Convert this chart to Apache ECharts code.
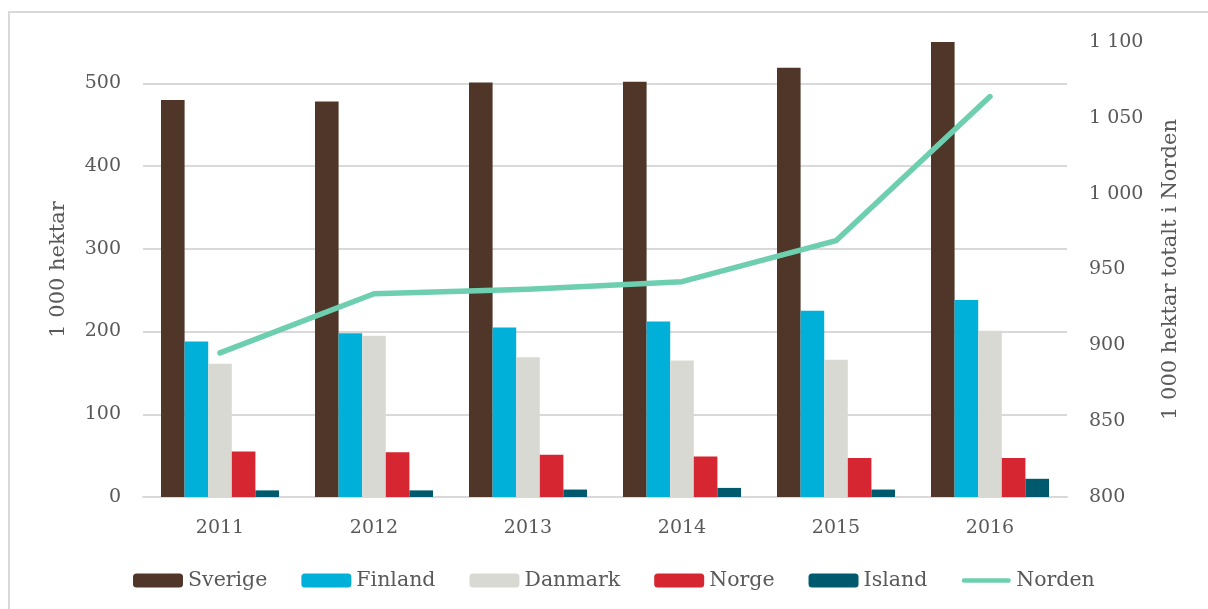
<!DOCTYPE html>
<html>
<head>
<meta charset="utf-8">
<title>Areal per land</title>
<script src="https://cdn.jsdelivr.net/npm/echarts@6/dist/echarts.min.js"></script>
<style>
  html, body { margin: 0; padding: 0; background: #ffffff; }
  #chart { width: 1208px; height: 609px; }
</style>
</head>
<body>
<div id="chart"></div>
<script>
// Years on the category axis
const years = ['2011', '2012', '2013', '2014', '2015', '2016'];

// 1 000 hektar per land
const sverige = [480, 478, 501, 502, 519, 550];
const finland = [188, 198, 205, 212, 225, 238];
const danmark = [161, 195, 169, 165, 166, 201];
const norge   = [55, 54, 51, 49, 47, 47];
const island  = [8, 8, 9, 11, 9, 22];

// 1 000 hektar totalt i Norden (right axis)
const norden = [895, 934, 937, 942, 969, 1064];

const textColor = '#595959';
const gridColor = '#d9d9d9';
const lineColor = '#6dcfb0';
const fontFamily = '"DejaVu Serif", "Liberation Serif", serif';

// Legend key for the line: a thin capsule centred in a 56x14 box
const lineIcon = 'path://M0,0 M56,14 M3,4.5 L53,4.5 A2.5,2.5 0 0 1 53,9.5 L3,9.5 A2.5,2.5 0 0 1 3,4.5 Z';

// Thousands separated by a space, e.g. "1 050"
function spaced(v) {
  return String(v).replace(/\B(?=(\d{3})+(?!\d))/g, ' ');
}

const barSeries = [
  ['Sverige', sverige, '#4f3629'],
  ['Finland', finland, '#00b0d8'],
  ['Danmark', danmark, '#d9d9d4'],
  ['Norge', norge, '#d52632'],
  ['Island', island, '#005a6e']
].map(([name, data, color]) => ({
  name: name,
  type: 'bar',
  data: data,
  barWidth: 23.6,
  barGap: '0%',
  itemStyle: { color: color },
  emphasis: { disabled: true }
}));

const chart = echarts.init(document.getElementById('chart'), null, { renderer: 'canvas' });

chart.setOption({
  animation: false,
  backgroundColor: '#ffffff',
  textStyle: { fontFamily: fontFamily, color: textColor },
  graphic: [{
    type: 'rect',
    shape: { x: 9, y: 12, width: 1230, height: 640 },
    style: { fill: 'none', stroke: gridColor, lineWidth: 2 },
    silent: true,
    z: -10
  }],
  grid: { left: 143, right: 141, top: 42, bottom: 112 },
  legend: {
    left: 128,
    top: 565,
    itemWidth: 50,
    itemHeight: 14,
    itemGap: 34,
    textStyle: { fontFamily: fontFamily, fontSize: 20.5, color: textColor },
    data: [
      'Sverige', 'Finland', 'Danmark', 'Norge', 'Island',
      { name: 'Norden', icon: lineIcon, itemStyle: { color: lineColor } }
    ]
  },
  xAxis: {
    type: 'category',
    data: years,
    axisLine: { show: true, lineStyle: { color: gridColor, width: 2 } },
    axisTick: { show: false },
    axisLabel: { fontFamily: fontFamily, fontSize: 19, color: textColor, margin: 22 }
  },
  yAxis: [
    {
      type: 'value',
      min: 0,
      max: 550,
      interval: 100,
      name: '1 000 hektar',
      nameLocation: 'middle',
      nameRotate: 90,
      nameGap: 74,
      nameTextStyle: { fontFamily: fontFamily, fontSize: 21, color: textColor },
      axisLine: { show: false },
      axisTick: { show: false },
      axisLabel: {
        fontFamily: fontFamily, fontSize: 19, color: textColor, margin: 22,
        showMaxLabel: false,
        formatter: (v) => spaced(v)
      },
      splitLine: { show: true, showMaxLine: false, lineStyle: { color: gridColor, width: 2 } }
    },
    {
      type: 'value',
      min: 800,
      max: 1100,
      interval: 50,
      position: 'right',
      name: '1 000 hektar totalt i Norden',
      nameLocation: 'middle',
      nameRotate: 90,
      nameGap: 93,
      nameTextStyle: { fontFamily: fontFamily, fontSize: 21, color: textColor },
      axisLine: { show: false },
      axisTick: { show: false },
      axisLabel: {
        fontFamily: fontFamily, fontSize: 19, color: textColor, margin: 22,
        formatter: (v) => spaced(v)
      },
      splitLine: { show: false }
    }
  ],
  series: barSeries.concat([{
    name: 'Norden',
    type: 'line',
    yAxisIndex: 1,
    data: norden,
    symbol: 'none',
    itemStyle: { color: lineColor },
    lineStyle: { color: lineColor, width: 5.5, cap: 'round', join: 'round' },
    emphasis: { disabled: true },
    z: 5
  }])
});
</script>
</body>
</html>
